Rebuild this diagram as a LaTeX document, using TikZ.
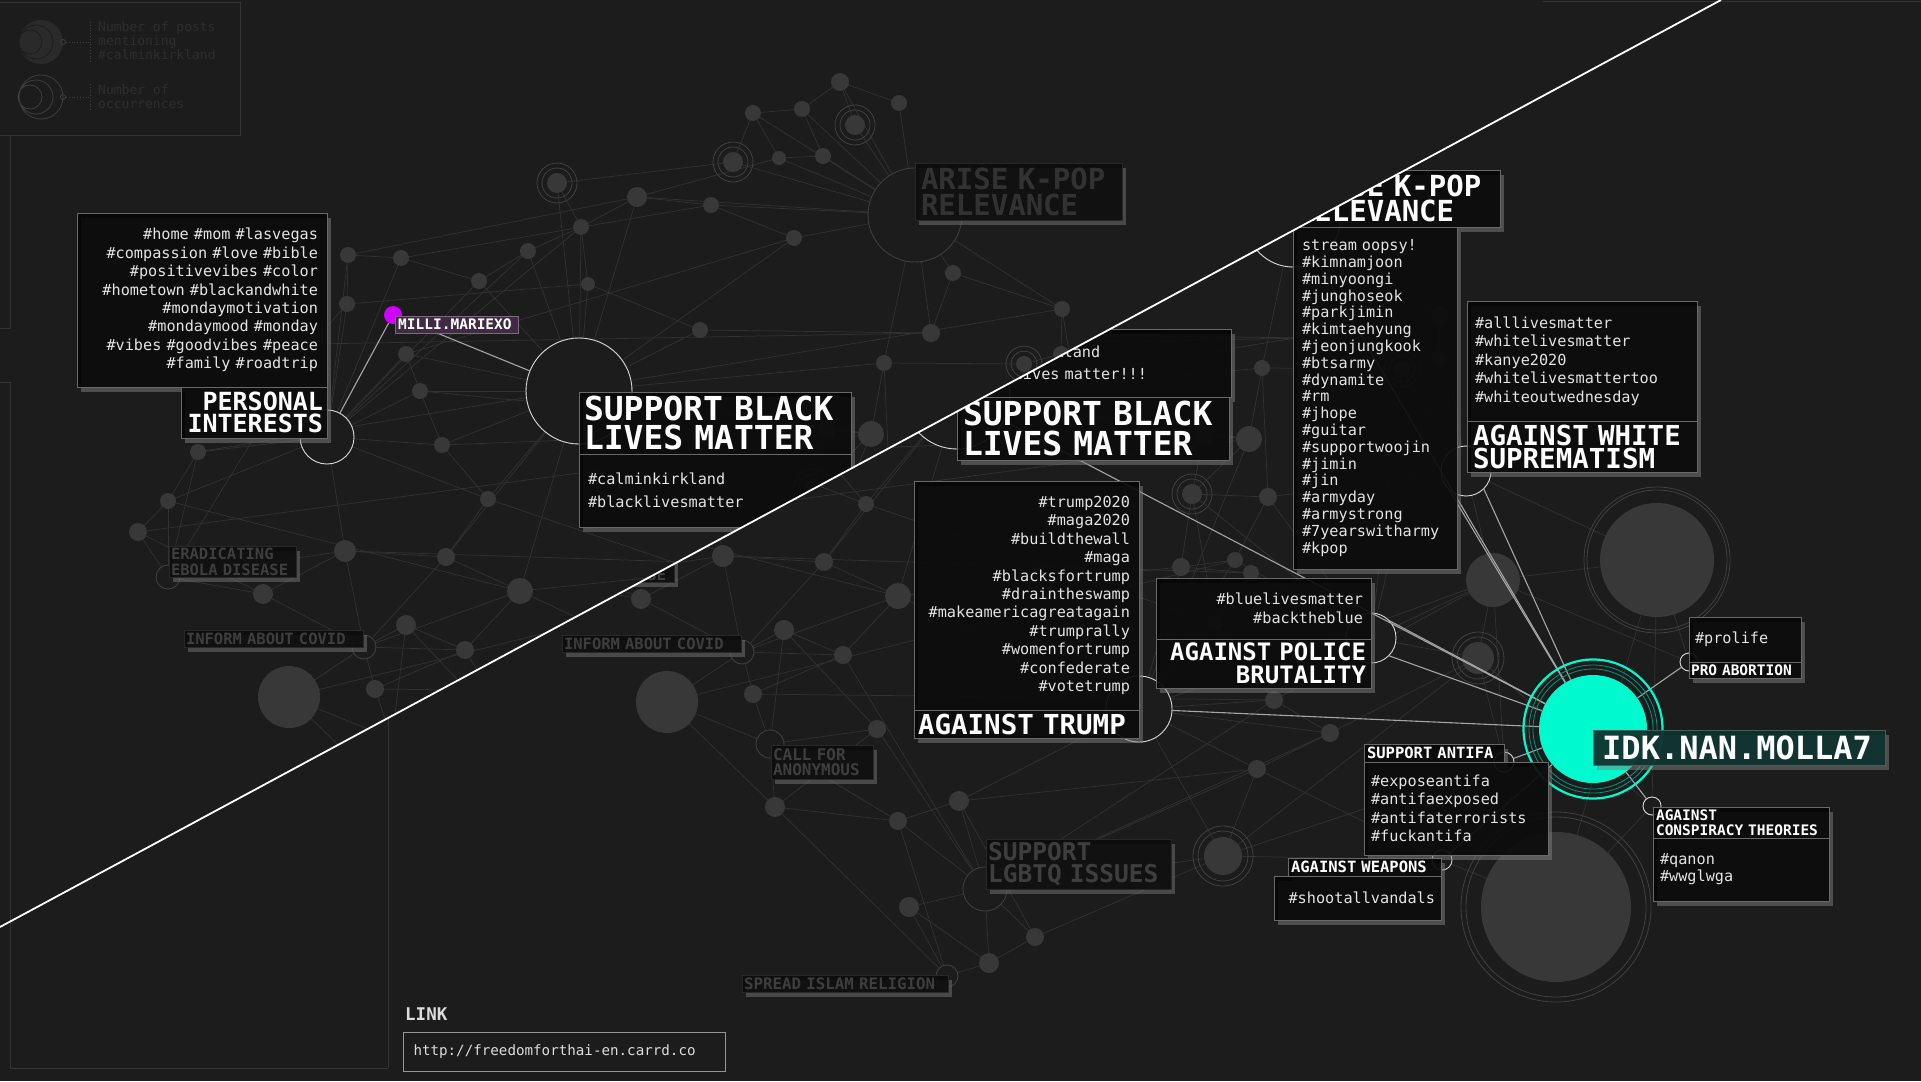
\documentclass[tikz,border=0pt]{standalone}
\usepackage{fontspec}
\setmonofont{DejaVu Sans Mono}[WordSpace={1,0,0}]
\usetikzlibrary{shadows}

\definecolor{bgcol}{RGB}{28,28,28}
\definecolor{dotcol}{RGB}{56,56,56}
\definecolor{ringcol}{RGB}{64,64,64}
\definecolor{netcol}{RGB}{49,49,49}
\definecolor{hubfaint}{RGB}{62,62,62}
\definecolor{boxfill}{RGB}{5,5,5}
\definecolor{boxline}{RGB}{105,105,105}
\definecolor{tagcol}{RGB}{228,228,228}
\definecolor{dimfill}{RGB}{12,12,12}
\definecolor{dimline}{RGB}{40,40,40}
\definecolor{dimtext}{RGB}{62,62,62}
\definecolor{dimtext2}{RGB}{50,50,50}
\definecolor{hicol}{RGB}{165,165,165}
\definecolor{hubcol}{RGB}{215,215,215}
\definecolor{millicol}{RGB}{208,0,255}
\definecolor{millifill}{RGB}{64,42,68}
\definecolor{milliline}{RGB}{125,105,125}
\definecolor{idkcyan}{RGB}{0,250,208}
\definecolor{idkdark}{RGB}{0,150,128}
\definecolor{idkfill}{RGB}{12,50,46}
\definecolor{idkline}{RGB}{70,95,90}
\definecolor{legcol}{RGB}{46,46,46}
\definecolor{legdisk}{RGB}{42,42,42}
\definecolor{legring}{RGB}{62,62,62}
\definecolor{framecol}{RGB}{52,52,52}
\definecolor{linkcol}{RGB}{220,220,220}
\definecolor{linkline}{RGB}{150,150,150}

% monospaced text with a full-width word space
\newcommand\tfont[2]{\ttfamily\fontsize{#1}{#2}\selectfont\spaceskip=0.602em\relax}
\newcommand\bfont[2]{\ttfamily\bfseries\fontsize{#1}{#2}\selectfont\spaceskip=0.602em\relax}

% dots of the hashtag network (x/y/radius)
\def\dotlist{840/82/9, 802/109/8, 753/113/8, 899/103/8, 823/156/8, 779/158/7, 794/238/8, 711/205/8, 637/197/10, 581/227/8,
 528/251/8, 588/284/7, 479/281/8, 348/255/8, 401/258/8, 347/304/8, 406/354/8, 420/391/8, 312/344/8, 442/445/8,
 488/499/8, 198/452/8, 168/501/8, 138/532/9, 263/594/10, 345/551/11, 446/557/9, 520/591/13, 406/625/10, 465/650/9,
 375/689/9, 826/430/9, 871/434/13, 931/333/9, 953/273/8, 1062/309/8, 1061/354/8, 1024/364/8, 884/363/8, 700/330/8,
 890/492/9, 857/555/8, 803/562/9, 873/568/8, 837/618/8, 896/695/9, 952/728/9, 879/764/9, 499/724/9, 397/802/10,
 520/816/9, 581/796/10, 531/902/10, 611/958/10, 657/932/9, 1115/575/27, 289/697/31, 1279/555/57, 1178/902/75, 1100/653/16,
 845/851/19, 814/489/10, 855/125/10, 733/162/10, 557/183/10}

% the network, drawn once for each view
\newcommand\netlayer{%
  \foreach \x/\y/\r [count=\i] in \dotlist
    \coordinate (d\i) at (\x,\y);
  \foreach \n/\x/\y/\r in {hA/915/215/47, hP/327/437/27, hS/579/391/53, hE/168/577/12, hC/364/647/12,
      hN/392/739/14, hL/607/884/22, hI/569/971/11, hT/761/704/33, hB/993/633/25, hW/1088/466/25,
      hF/1126/757/10, hG/1064/855/10, hQ/1274/801/9, hR/1311/657/9}
    \coordinate (\n) at (\x,\y);
  % links between hashtags
  \foreach \a/\b in {1/2, 2/3, 1/4, 2/5, 5/6, 3/6, 6/9, 9/10, 10/11, 11/13, 13/15, 14/15, 14/16, 16/19,
      17/18, 18/20, 20/21, 21/27, 27/28, 26/27, 25/26, 22/23, 23/24, 24/25, 29/30, 30/31, 28/30, 32/33,
      33/39, 34/35, 35/36, 36/37, 37/38, 38/39, 39/41, 41/42, 42/43, 43/44, 44/45, 45/46, 46/47, 47/48,
      48/52, 49/50, 50/51, 51/52, 52/55, 53/54, 54/55, 56/60, 56/58, 58/59, 60/61, 61/48, 62/41, 62/43,
      7/8, 8/9, 12/10, 28/43, 24/33, 22/36, 19/34, 57/42, 31/46, 26/44, 23/28, 14/9, 16/12, 20/32,
      21/45, 29/49, 57/50, 3/64, 64/65, 63/1, 65/10, 62/33, 32/62, 47/60, 55/61, 46/56, 45/62, 18/33,
      17/7, 15/8, 40/12, 40/34}
    \draw[netline] (d\a) -- (d\b);
  % links into the topic hubs
  \foreach \h/\ds in {hA/{1,2,3,4,5,6,7,8,9,34,35,36,39,63,64},
      hP/{10,11,13,14,15,16,17,18,19,20,21,22,23,26},
      hS/{7,9,10,11,12,13,17,18,20,21,27,28,32,33,39,40,65},
      hE/{19,22,23,24,25,26}, hC/{25,26,27,28,29,30,31,57}, hN/{29,31,49,50,51,57},
      hL/{30,46,47,48,49,51,52,53,54,55,61}, hI/{50,51,53,54},
      hT/{28,33,42,43,44,45,46,47,48,52,56,61}, hB/{37,38,41,42,44,56,60,62},
      hW/{36,37,38,41,56,58}, hF/{56,59,60,61}, hG/{48,59,61}, hQ/{58,59,60}, hR/{56,58}}
    \foreach \d in \ds
      \draw[netline] (\h) -- (d\d);
  % hubs
  \foreach \n/\r in {hA/47, hP/27, hS/53, hE/12, hC/12, hN/14, hL/22, hI/11, hT/33, hB/25, hW/25,
      hF/10, hG/10, hQ/9, hR/9}
    \node[hub=hubfaint, minimum size=2*\r] (\n-c) at (\n) {};
  % dots
  \foreach \x/\y/\r [count=\i] in \dotlist
    \node[netdot, minimum size=2*\r] (n\i) at (\x,\y) {};
  \foreach \i/\r in {58/70, 58/73, 59/90, 59/95, 60/21, 60/26, 61/25, 61/30, 62/15, 62/20,
      63/15, 63/20, 64/15, 64/20, 65/15, 65/20, 38/13, 38/18}
    \draw[ringcol, line width=0.8] (d\i) circle (\r);
  % faded topic labels
  \node[dimbox, minimum width=127, minimum height=31, text width=123, align=left, font=\bfont{15.5}{16}]
    (ebola) at (169,546) {ERADICATING\\EBOLA DISEASE};
  \node[dimbox, minimum width=179, minimum height=17, text width=175, align=left, font=\bfont{15.5}{16}]
    (covid) at (184,630) {INFORM ABOUT COVID};
  \node[dimbox, minimum width=102, minimum height=34, text width=98, align=left, font=\bfont{16}{15}]
    (anon) at (393,740) {CALL FOR\\ANONYMOUS};
  \node[dimbox, minimum width=185, minimum height=50, text width=181, align=left, font=\bfont{24.5}{22}]
    (lgbtq) at (608,834) {SUPPORT\\LGBTQ ISSUES};
  \node[dimbox, minimum width=206, minimum height=17, text width=202, align=left, font=\bfont{15.8}{16}]
    (islam) at (364,970) {SPREAD ISLAM RELIGION};
}

\begin{document}
\begin{tikzpicture}[x=1pt, y=-1pt,
    netdot/.style={circle, fill=dotcol, inner sep=0pt, outer sep=0pt},
    hub/.style={circle, draw=#1, fill=bgcol, inner sep=0pt, outer sep=0pt, line width=0.9},
    netline/.style={draw=netcol, line width=0.75},
    hiline/.style={draw=hicol, line width=1.1},
    panel/.style={anchor=north west, draw=boxline, fill=boxfill, fill opacity=0.88, text opacity=1,
      inner ysep=0pt, outer sep=0pt, line width=0.9,
      drop shadow={shadow xshift=4pt, shadow yshift=-5pt, opacity=0.5}},
    tags/.style={panel, text=tagcol, font=\tfont{15.2}{#1}},
    tags/.default=18.4,
    titlebox/.style={panel, text=white},
    dimbox/.style={anchor=north west, draw=dimline, fill=dimfill, fill opacity=0.9, text opacity=1,
      text=dimtext, inner ysep=0pt, inner xsep=2, outer sep=0pt,
      drop shadow={shadow xshift=4pt, shadow yshift=-5pt, opacity=0.45}}
]
\useasboundingbox (0,0) rectangle (1921,1081);
\fill[bgcol] (0,0) rectangle (1921,1081);

% ---------- upper view: milli.mariexo ----------
\begin{scope}
  \clip (0,0) -- (1721,0) -- (0,927) -- cycle;
  \netlayer
  \node[dimbox, text=dimtext2, minimum width=207, minimum height=57, inner xsep=6, text width=195, align=left,
    font=\bfont{29}{26}] (arise) at (915,163) {ARISE K-POP\\RELEVANCE};
  % topics of the user
  \node[hub=hubcol, minimum size=54] (pihub) at (327,437) {};
  \node[hub=hubcol, minimum size=106] (sbhub) at (579,391) {};
  \node[circle, fill=millicol, minimum size=18, inner sep=0pt] (milli) at (393,315) {};
  \draw[hiline] (pihub) -- (milli);
  \draw[hiline] (milli) -- (sbhub);
  % Personal interests
  \node[tags, minimum width=250, minimum height=174, inner xsep=9, text width=232, align=right]
    (pitags) at (77,213) {\#home \#mom \#lasvegas\\\#compassion \#love \#bible\\\#positivevibes \#color\\
      \#hometown \#blackandwhite\\\#mondaymotivation\\\#mondaymood \#monday\\\#vibes \#goodvibes \#peace\\
      \#family \#roadtrip};
  \node[titlebox, minimum width=146, minimum height=51, inner xsep=4, text width=138, align=right,
    font=\bfont{25}{22}] (pititle) at (181,387) {PERSONAL\\INTERESTS};
  % Support black lives matter
  \node[titlebox, minimum width=272, minimum height=62, inner xsep=5, text width=262, align=left,
    font=\bfont{33}{29}] (sbtitle) at (579,392) {SUPPORT BLACK\\LIVES MATTER};
  \node[tags=23, minimum width=272, minimum height=73, inner xsep=9, text width=254, align=left]
    (sbtags) at (579,454) {\#calminkirkland\\\#blacklivesmatter};
  \node[anchor=north west, draw=milliline, fill=millifill, text=white, minimum width=123, minimum height=17,
    inner sep=0pt, inner xsep=3, text width=117, align=left, font=\bfont{14.5}{15}]
    (millilbl) at (395,316) {MILLI.MARIEXO};
\end{scope}

% ---------- lower view: idk.nan.molla7 ----------
\begin{scope}
  \clip (1721,0) -- (1921,0) -- (1921,1081) -- (0,1081) -- (0,927) -- cycle;
  \begin{scope}[shift={(378,5)}]
    \netlayer
  \end{scope}
  \draw[framecol] (388,600) -- (388,1068);
  % topics of the user
  \foreach \n/\x/\y/\r in {kphub/1293/220/47, sbhub/957/396/53, wshub/1466/471/25, pbhub/1371/638/25,
      tphub/1139/709/33, afhub/1504/762/10, wphub/1442/860/10, cthub/1652/806/9, pahub/1689/662/9}
    \node[hub=hubcol, minimum size=2*\r] (\n) at (\x,\y) {};
  \node[circle, fill=idkcyan, minimum size=108, inner sep=0pt] (idk) at (1593,729) {};
  \foreach \h in {kphub, sbhub, tphub, afhub, wphub, cthub, pahub}
    \draw[hiline] (idk) -- (\h);
  \draw[hiline] (idk) -- (wshub.south west);
  \draw[hiline] (idk) -- (wshub.south east);
  \draw[hiline] (idk) -- (pbhub.north east);
  \draw[hiline] (idk) -- (pbhub.south east);
  \draw[idkdark, line width=0.8] (idk.center) circle (60) (idk.center) circle (64);
  \draw[idkcyan, line width=2.2] (idk.center) circle (69.5);
  % Arise k-pop relevance
  \node[titlebox, minimum width=210, minimum height=57, inner xsep=7, text width=196, align=left,
    font=\bfont{29}{25}] (kptitle) at (1290,170) {ARISE K-POP\\RELEVANCE};
  \node[tags=16.8, minimum width=164, minimum height=342, inner xsep=9, text width=146, align=left]
    (kptags) at (1293,227) {stream oopsy!\\\#kimnamjoon\\\#minyoongi\\\#junghoseok\\\#parkjimin\\
      \#kimtaehyung\\\#jeonjungkook\\\#btsarmy\\\#dynamite\\\#rm\\\#jhope\\\#guitar\\\#supportwoojin\\
      \#jimin\\\#jin\\\#armyday\\\#armystrong\\\#7yearswitharmy\\\#kpop};
  % Support black lives matter
  \node[tags=22, minimum width=274, minimum height=68, inner xsep=6, text width=262, align=left]
    (sbtags2) at (957,329) {\#calminkirkland\\black lives matter!!!};
  \node[titlebox, minimum width=272, minimum height=63, inner xsep=6, text width=260, align=left,
    font=\bfont{33}{30}] (sbtitle2) at (957,397) {SUPPORT BLACK\\LIVES MATTER};
  % Against trump
  \node[tags, minimum width=225, minimum height=229, inner xsep=9, text width=207, align=right]
    (tptags) at (914,481) {\#trump2020\\\#maga2020\\\#buildthewall\\\#maga\\\#blacksfortrump\\
      \#draintheswamp\\\#makeamericagreatagain\\\#trumprally\\\#womenfortrump\\\#confederate\\\#votetrump};
  \node[titlebox, minimum width=225, minimum height=28, inner xsep=4, text width=217, align=left,
    font=\bfont{27.5}{25}] (tptitle) at (914,710) {AGAINST TRUMP};
  % Against police brutality
  \node[tags=19, minimum width=215, minimum height=61, inner xsep=8, text width=199, align=right]
    (pbtags) at (1156,578) {\#bluelivesmatter\\\#backtheblue};
  \node[titlebox, minimum width=215, minimum height=49, inner xsep=5, text width=205, align=right,
    font=\bfont{24}{23}] (pbtitle) at (1156,639) {AGAINST POLICE\\BRUTALITY};
  % Against white suprematism
  \node[tags=18.5, minimum width=230, minimum height=120, inner xsep=8, text width=214, align=left]
    (wstags) at (1467,301) {\#alllivesmatter\\\#whitelivesmatter\\\#kanye2020\\\#whitelivesmattertoo\\
      \#whiteoutwednesday};
  \node[titlebox, minimum width=230, minimum height=51, inner xsep=6, text width=218, align=left,
    font=\bfont{27.5}{23}] (wstitle) at (1467,421) {AGAINST WHITE\\SUPREMATISM};
  % Pro abortion
  \node[tags, minimum width=112, minimum height=45, inner xsep=6, text width=100, align=left]
    (patags) at (1689,617) {\#prolife};
  \node[titlebox, minimum width=112, minimum height=16, inner xsep=2, text width=108, align=left,
    font=\bfont{14.5}{15}] (patitle) at (1689,662) {PRO ABORTION};
  % Against conspiracy theories
  \node[titlebox, minimum width=176, minimum height=31, inner xsep=3, text width=170, align=left,
    font=\bfont{14.5}{15}] (cttitle) at (1653,807) {AGAINST\\CONSPIRACY THEORIES};
  \node[tags=17, minimum width=176, minimum height=63, inner xsep=7, text width=162, align=left]
    (cttags) at (1653,838) {\#qanon\\\#wwglwga};
  % Support antifa
  \node[titlebox, minimum width=140, minimum height=18, inner xsep=3, text width=134, align=left,
    font=\bfont{15.5}{16}] (aftitle) at (1364,744) {SUPPORT ANTIFA};
  \node[tags, minimum width=184, minimum height=93, inner xsep=7, text width=170, align=left]
    (aftags) at (1364,762) {\#exposeantifa\\\#antifaexposed\\\#antifaterrorists\\\#fuckantifa};
  % Against weapons
  \node[titlebox, minimum width=153, minimum height=18, inner xsep=3, text width=147, align=left,
    font=\bfont{15.5}{16}] (wptitle) at (1288,858) {AGAINST WEAPONS};
  \node[tags, minimum width=167, minimum height=44, inner xsep=6, text width=155, align=right]
    (wptags) at (1274,876) {\#shootallvandals};
  % the user
  \node[anchor=north west, draw=idkline, fill=idkfill, fill opacity=0.92, text opacity=1, text=white,
    minimum width=292, minimum height=35, inner sep=0pt, inner xsep=9, text width=274, align=left,
    font=\bfont{32}{32}, drop shadow={shadow xshift=4pt, shadow yshift=-5pt, opacity=0.5}]
    (idklbl) at (1593,730) {IDK.NAN.MOLLA7};
\end{scope}

% ---------- legend ----------
\node[draw=framecol, anchor=north west, minimum width=241, minimum height=133, inner sep=0pt] (legend) at (-1,2) {};
\fill[legdisk] (41,42) circle (22);
\draw[bgcol, line width=0.8] (36,42) circle (17) (30,42) circle (12);
\draw[legring, line width=0.8] (41,97) circle (22) (36,97) circle (17) (30,97) circle (12);
\draw[legring, line width=0.8] (63,42) circle (2.5) (63,97) circle (2.5);
\draw[legring, dotted, line width=0.8] (66,42) -- (90,42) (66,97) -- (90,97) (90,22) -- (90,62) (90,84) -- (90,110);
\node[anchor=west, text=legcol, font=\tfont{13}{14}, align=left, inner sep=0pt] (legposts) at (98,41)
  {Number of posts\\mentioning\\\#calminkirkland};
\node[anchor=west, text=legcol, font=\tfont{13}{14}, align=left, inner sep=0pt] (legocc) at (98,97)
  {Number of\\occurrences};

% ---------- frames ----------
\draw[framecol] (10,135) -- (10,328) -- (0,328);
\draw[framecol] (0,382) -- (10,382) -- (10,1068) -- (388,1068);
\draw[framecol] (1543,1) -- (1921,1);

% ---------- link ----------
\node[anchor=west, text=linkcol, font=\bfont{17.5}{20}, inner sep=0pt] (linklbl) at (405,1014) {LINK};
\node[anchor=north west, draw=linkline, line width=1, minimum width=322, minimum height=39, inner sep=0pt,
  inner xsep=10, text width=302, align=left, text=linkcol, font=\tfont{14.2}{16}]
  (linkbox) at (403,1032) {http://freedomforthai-en.carrd.co};

% ---------- split between the two views ----------
\coordinate (cutA) at (0,927);
\coordinate (cutB) at (1721,0);
\draw[white, line width=1.8] (cutA) -- (cutB);
\end{tikzpicture}
\end{document}
